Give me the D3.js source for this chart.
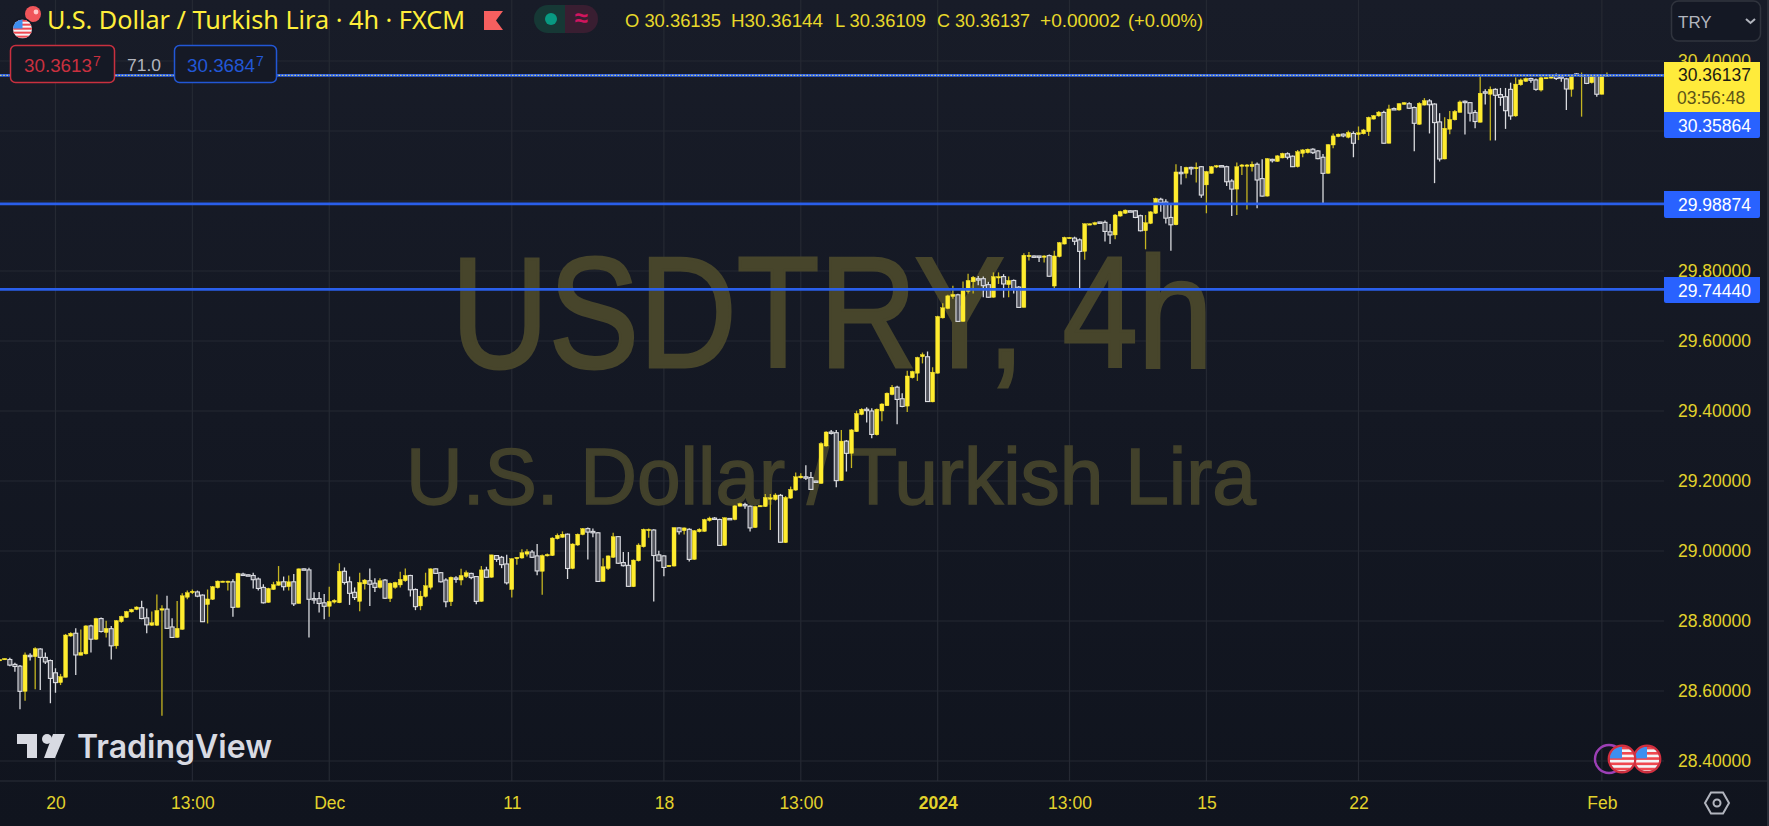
<!DOCTYPE html>
<html><head><meta charset="utf-8">
<style>html,body{margin:0;padding:0;background:#131722;overflow:hidden}svg{display:block}text{font-family:"Liberation Sans",sans-serif}</style>
<script src="https://cdn.jsdelivr.net/npm/d3@7/dist/d3.min.js"></script>
</head><body><svg id="c" width="1769" height="826"></svg>
<script>
const opens=[
28.686,28.689,28.690,28.676,28.671,28.599,28.702,28.698,28.720,28.696,
28.687,28.652,28.624,28.639,28.757,28.765,28.702,28.706,28.786,28.748,
28.807,28.767,28.778,28.729,28.798,28.810,28.826,28.833,28.838,28.809,
28.788,28.788,28.831,28.834,28.783,28.753,28.776,28.868,28.881,28.883,
28.874,28.847,28.862,28.895,28.912,28.912,28.912,28.839,28.934,28.932,
28.930,28.920,28.896,28.853,28.890,28.902,28.912,28.898,28.912,28.850,
28.949,28.946,28.864,28.864,28.852,28.842,28.854,28.852,28.942,28.912,
28.882,28.856,28.906,28.915,28.908,28.896,28.917,28.864,28.896,28.903,
28.915,28.930,28.890,28.843,28.870,28.896,28.949,28.938,28.917,28.855,
28.923,28.917,28.927,28.936,28.927,28.856,28.946,28.925,28.987,28.982,
28.963,28.890,28.979,28.980,28.991,28.997,28.986,28.942,28.986,28.987,
29.035,29.039,29.048,28.950,29.017,29.047,29.064,29.056,29.052,28.913,
28.950,28.982,29.041,28.967,28.959,28.898,28.972,29.012,29.060,29.060,
28.989,28.986,28.957,28.957,29.066,29.058,29.062,28.976,29.055,29.056,
29.087,29.094,29.090,29.016,29.093,29.090,29.128,29.133,29.128,29.067,
29.127,29.127,29.149,29.147,29.159,29.024,29.151,29.174,29.209,29.212,
29.210,29.200,29.193,29.300,29.340,29.338,29.201,29.314,29.279,29.341,
29.390,29.405,29.400,29.332,29.400,29.415,29.447,29.468,29.435,29.414,
29.495,29.508,29.555,29.555,29.426,29.508,29.666,29.693,29.727,29.732,
29.656,29.742,29.769,29.778,29.778,29.761,29.725,29.780,29.784,29.761,
29.773,29.754,29.696,29.841,29.843,29.843,29.841,29.844,29.757,29.841,
29.877,29.895,29.894,29.889,29.856,29.933,29.933,29.940,29.939,29.912,
29.903,29.957,29.965,29.972,29.972,29.958,29.915,29.936,29.965,30.005,
29.997,29.953,29.932,30.082,30.079,30.096,30.092,30.098,30.046,30.079,
30.098,30.101,30.098,30.057,30.034,30.100,30.100,30.098,30.105,30.064,
30.014,30.119,30.113,30.123,30.135,30.128,30.098,30.136,30.138,30.148,
30.143,30.125,30.079,30.160,30.184,30.191,30.182,30.193,30.190,30.192,
30.198,30.234,30.243,30.253,30.165,30.264,30.260,30.276,30.278,30.267,
30.219,30.274,30.286,30.277,30.226,30.120,30.205,30.232,30.253,30.285,
30.281,30.253,30.225,30.312,30.305,30.319,30.304,30.298,30.319,30.243,
30.332,30.342,30.350,30.346,30.317,30.350,30.351,30.361,30.355,30.349,
30.319,30.363,30.358,30.359,30.338,30.358,30.305,30.358,30.36135];
const closes=[
28.690,28.693,28.674,28.670,28.599,28.703,28.700,28.721,28.696,28.683,
28.636,28.624,28.641,28.760,28.765,28.703,28.710,28.786,28.748,28.807,
28.770,28.779,28.729,28.801,28.813,28.827,28.833,28.840,28.807,28.789,
28.795,28.830,28.835,28.779,28.753,28.779,28.872,28.881,28.885,28.871,
28.798,28.863,28.898,28.914,28.914,28.914,28.839,28.936,28.930,28.930,
28.918,28.893,28.852,28.893,28.904,28.912,28.898,28.912,28.849,28.949,
28.947,28.862,28.860,28.850,28.842,28.856,28.859,28.942,28.910,28.879,
28.867,28.910,28.917,28.905,28.896,28.915,28.865,28.908,28.910,28.919,
28.930,28.889,28.841,28.871,28.901,28.949,28.936,28.912,28.855,28.925,
28.921,28.930,28.938,28.924,28.856,28.946,28.925,28.989,28.976,28.961,
28.909,28.978,28.982,28.995,28.998,28.982,28.943,28.987,28.990,29.037,
29.045,29.048,28.950,29.020,29.048,29.064,29.054,29.052,28.913,28.955,
28.986,29.041,28.965,28.958,28.899,28.974,29.017,29.062,29.062,28.987,
28.972,28.953,28.959,29.067,29.055,29.066,28.976,29.058,29.062,29.090,
29.094,29.092,29.016,29.095,29.091,29.129,29.135,29.129,29.066,29.127,
29.130,29.153,29.152,29.160,29.025,29.153,29.176,29.212,29.214,29.208,
29.176,29.198,29.307,29.340,29.338,29.201,29.314,29.279,29.346,29.393,
29.405,29.401,29.333,29.405,29.420,29.451,29.468,29.433,29.413,29.500,
29.513,29.553,29.561,29.427,29.511,29.670,29.695,29.729,29.733,29.656,
29.748,29.773,29.782,29.775,29.758,29.725,29.784,29.784,29.763,29.773,
29.750,29.696,29.845,29.845,29.841,29.841,29.843,29.785,29.843,29.881,
29.896,29.896,29.885,29.856,29.935,29.935,29.938,29.938,29.913,29.903,
29.960,29.970,29.974,29.970,29.953,29.915,29.938,29.969,30.007,29.995,
29.951,29.932,30.083,30.079,30.096,30.093,30.096,30.017,30.084,30.098,
30.101,30.099,30.055,30.034,30.098,30.103,30.103,30.105,30.060,30.014,
30.121,30.115,30.129,30.136,30.125,30.098,30.141,30.146,30.148,30.138,
30.121,30.079,30.161,30.186,30.191,30.186,30.196,30.165,30.195,30.203,
30.239,30.244,30.254,30.165,30.263,30.261,30.278,30.281,30.265,30.222,
30.279,30.287,30.275,30.224,30.120,30.208,30.233,30.256,30.283,30.283,
30.251,30.227,30.308,30.310,30.319,30.302,30.296,30.258,30.243,30.334,
30.346,30.350,30.345,30.319,30.352,30.353,30.360,30.350,30.353,30.320,
30.359,30.359,30.359,30.336,30.357,30.305,30.359,30.360,30.36137];
const highs=[
28.690,28.693,28.695,28.681,28.674,28.710,28.708,28.725,28.722,28.710,
28.690,28.665,28.649,28.763,28.768,28.779,28.776,28.788,28.789,28.809,
28.810,28.801,28.786,28.803,28.815,28.829,28.835,28.842,28.858,28.836,
28.827,28.876,28.845,28.872,28.808,28.857,28.879,28.887,28.890,28.887,
28.876,28.890,28.900,28.916,28.915,28.915,28.919,28.938,28.938,28.933,
28.938,28.924,28.905,28.895,28.912,28.957,28.927,28.930,28.934,28.950,
28.950,28.952,28.882,28.883,28.877,28.898,28.862,28.965,28.953,28.927,
28.896,28.938,28.920,28.950,28.922,28.922,28.920,28.910,28.912,28.941,
28.950,28.932,28.893,28.886,28.938,28.950,28.950,28.940,28.922,28.927,
28.928,28.949,28.944,28.938,28.928,28.957,28.955,28.989,28.988,28.986,
28.989,28.979,28.982,29.005,29.005,29.003,29.020,28.990,28.993,29.039,
29.050,29.056,29.050,29.022,29.050,29.066,29.067,29.064,29.054,28.979,
28.987,29.052,29.042,28.997,28.997,28.976,29.022,29.064,29.064,29.062,
29.001,28.988,28.960,29.067,29.067,29.067,29.065,29.060,29.065,29.092,
29.098,29.097,29.092,29.096,29.094,29.131,29.138,29.138,29.130,29.129,
29.131,29.163,29.163,29.165,29.163,29.157,29.184,29.224,29.222,29.245,
29.226,29.201,29.311,29.342,29.346,29.346,29.346,29.317,29.348,29.401,
29.408,29.411,29.408,29.407,29.422,29.453,29.474,29.472,29.451,29.515,
29.515,29.555,29.567,29.570,29.525,29.672,29.708,29.732,29.758,29.735,
29.770,29.792,29.786,29.786,29.784,29.769,29.796,29.796,29.791,29.784,
29.776,29.757,29.851,29.854,29.844,29.843,29.845,29.847,29.858,29.883,
29.898,29.897,29.898,29.893,29.936,29.936,29.941,29.941,29.944,29.934,
29.963,29.972,29.976,29.973,29.974,29.961,29.960,29.971,30.009,30.009,
30.005,29.993,30.105,30.100,30.098,30.098,30.110,30.100,30.086,30.100,
30.103,30.102,30.101,30.062,30.110,30.106,30.106,30.113,30.110,30.119,
30.123,30.121,30.131,30.138,30.139,30.130,30.146,30.148,30.150,30.151,
30.146,30.134,30.163,30.193,30.193,30.193,30.201,30.199,30.213,30.206,
30.241,30.246,30.257,30.258,30.275,30.267,30.280,30.283,30.282,30.270,
30.282,30.294,30.291,30.279,30.251,30.239,30.257,30.260,30.287,30.287,
30.283,30.260,30.363,30.319,30.327,30.322,30.323,30.323,30.338,30.353,
30.350,30.353,30.352,30.350,30.359,30.353,30.363,30.364,30.360,30.352,
30.361,30.365,30.367,30.363,30.360,30.361,30.361,30.367,30.36144];
const lows=[
28.686,28.689,28.671,28.655,28.548,28.572,28.687,28.605,28.603,28.677,
28.565,28.595,28.617,28.639,28.755,28.646,28.702,28.704,28.710,28.746,
28.767,28.753,28.690,28.721,28.795,28.809,28.824,28.831,28.805,28.765,
28.786,28.786,28.529,28.777,28.752,28.752,28.775,28.862,28.877,28.868,
28.797,28.793,28.860,28.893,28.911,28.887,28.812,28.838,28.929,28.929,
28.893,28.887,28.850,28.852,28.889,28.901,28.887,28.887,28.843,28.850,
28.946,28.753,28.849,28.824,28.805,28.812,28.850,28.851,28.904,28.846,
28.860,28.828,28.890,28.843,28.883,28.893,28.863,28.854,28.892,28.896,
28.912,28.870,28.831,28.831,28.867,28.890,28.934,28.910,28.839,28.843,
28.909,28.902,28.923,28.919,28.848,28.855,28.923,28.924,28.969,28.951,
28.904,28.867,28.961,28.978,28.984,28.980,28.931,28.875,28.984,28.986,
29.033,29.038,28.920,28.948,29.015,29.045,28.976,29.039,28.912,28.912,
28.946,28.980,28.963,28.956,28.898,28.897,28.970,29.010,29.038,28.856,
28.970,28.928,28.956,28.956,29.047,29.047,28.970,28.975,29.053,29.055,
29.084,29.090,29.015,29.015,29.090,29.088,29.127,29.121,29.056,29.066,
29.126,29.126,29.060,29.144,29.024,29.023,29.149,29.172,29.207,29.203,
29.174,29.197,29.192,29.298,29.333,29.182,29.200,29.227,29.237,29.340,
29.388,29.367,29.322,29.330,29.371,29.414,29.445,29.362,29.411,29.397,
29.493,29.486,29.536,29.426,29.425,29.507,29.664,29.691,29.721,29.655,
29.655,29.736,29.736,29.759,29.725,29.724,29.724,29.763,29.724,29.725,
29.736,29.696,29.696,29.830,29.838,29.826,29.824,29.784,29.748,29.839,
29.876,29.894,29.874,29.748,29.832,29.932,29.931,29.937,29.884,29.877,
29.891,29.955,29.963,29.969,29.951,29.913,29.862,29.934,29.963,29.969,
29.936,29.858,29.931,30.047,30.065,30.075,30.053,30.009,29.965,30.078,
30.094,30.098,30.043,29.957,29.960,30.074,29.976,30.084,29.979,30.013,
30.013,30.110,30.112,30.122,30.119,30.097,30.096,30.125,30.136,30.134,
30.119,29.993,30.078,30.151,30.182,30.182,30.179,30.125,30.174,30.190,
30.186,30.233,30.241,30.164,30.164,30.260,30.258,30.275,30.263,30.142,
30.218,30.273,30.193,30.051,30.113,30.119,30.191,30.230,30.253,30.190,
30.227,30.208,30.224,30.276,30.173,30.173,30.272,30.206,30.232,30.241,
30.329,30.340,30.338,30.315,30.313,30.349,30.350,30.346,30.341,30.260,
30.298,30.358,30.241,30.334,30.336,30.298,30.304,30.357,30.36109];
const timeTickBars=[11,38,65,101,131,158,185,211,238,268,316];
const timeTickLabels=["20","13:00","Dec","11","18","13:00","2024","13:00","15","22","Feb"];
const priceTicks=[30.4,30.2,30.0,29.8,29.6,29.4,29.2,29.0,28.8,28.6,28.4];
const hiddenPriceTicks=[30.2,30.0];
const lastPrice=30.36137, bidLine=30.35864, level1=29.98874, level2=29.7444;
const legendTokens=["O 30.36135","H30.36144","L 30.36109","C 30.36137","+0.00002","(+0.00%)"];

const W=1769,H=826,plotR=1664,axisY=781;
const svg=d3.select("#c");
const defs=svg.append("defs");
const bgGrad=defs.append("linearGradient").attr("id","bg").attr("x1",0).attr("y1",0).attr("x2",0).attr("y2",1);
bgGrad.append("stop").attr("offset",0).attr("stop-color","#181c28");
bgGrad.append("stop").attr("offset",1).attr("stop-color","#10141e");
defs.append("clipPath").attr("id","plot").append("rect").attr("x",0).attr("y",0).attr("width",plotR).attr("height",axisY);
svg.append("rect").attr("width",W).attr("height",H).attr("fill","url(#bg)");

const x=d3.scaleLinear().domain([0,318]).range([-0.3,1612]);
const y=d3.scaleLinear().domain([28.4,30.4]).range([761,61]);
const yel="#e2d22c";

// grid
const grid=svg.append("g").attr("stroke","#252933").attr("stroke-width",1.2);
grid.selectAll("line.h").data(priceTicks).join("line").attr("x1",0).attr("x2",plotR).attr("y1",d=>y(d)).attr("y2",d=>y(d));
grid.selectAll("line.v").data(timeTickBars).join("line").attr("class","v").attr("y1",0).attr("y2",axisY).attr("x1",d=>x(d)).attr("x2",d=>x(d));

// watermark
const wm=svg.append("g").attr("fill","#47452b").attr("stroke","#47452b").attr("text-anchor","middle").style("font-family","'Noto Sans'");
wm.append("text").attr("x",832).attr("y",367).attr("font-size",158).attr("stroke-width",3).attr("textLength",762).attr("lengthAdjust","spacingAndGlyphs").text("USDTRY, 4h");
wm.append("text").attr("x",831).attr("y",504).attr("font-size",80).attr("stroke-width",1.5).attr("textLength",850).attr("lengthAdjust","spacingAndGlyphs").attr("fill","#42412b").attr("stroke","#42412b").text("U.S. Dollar / Turkish Lira");

// candles
const bars=opens.map((o,i)=>({i,o,c:closes[i],h:highs[i],l:lows[i],up:closes[i]>=o}));
const cg=svg.append("g").attr("clip-path","url(#plot)");
cg.selectAll("line.w").data(bars).join("line").attr("class","w")
 .attr("x1",d=>x(d.i)).attr("x2",d=>x(d.i)).attr("y1",d=>y(d.h)).attr("y2",d=>y(d.l))
 .attr("stroke",d=>d.up?"#c4b421":"#d9dade").attr("stroke-width",1.3);
cg.selectAll("rect.b").data(bars).join("rect").attr("class","b")
 .attr("x",d=>x(d.i)-2).attr("width",4)
 .attr("y",d=>Math.min(y(d.o),y(d.c)))
 .attr("height",d=>Math.max(1.4,Math.abs(y(d.o)-y(d.c))))
 .attr("fill",d=>d.up?"#ffec2e":"#53555e")
 .attr("stroke",d=>d.up?"#ffec2e":"#dcdde2").attr("stroke-width",d=>d.up?0.4:1.1);

// horizontal level lines
const lv=svg.append("g");
lv.selectAll("line").data([[lastPrice,0.8],[level1,-1],[level2,-1.1]]).join("line").attr("x1",0).attr("x2",plotR)
 .attr("y1",d=>y(d[0])+d[1]).attr("y2",d=>y(d[0])+d[1]).attr("stroke","#2a5fea").attr("stroke-width",2.7);
lv.append("line").attr("x1",0).attr("x2",plotR).attr("y1",y(lastPrice)+0.8).attr("y2",y(lastPrice)+0.8)
 .attr("stroke","#f2e66a").attr("stroke-width",1).attr("stroke-dasharray","1.6,1.6");

// price axis
const ya=d3.axisRight(y).tickValues(priceTicks.filter(d=>!hiddenPriceTicks.includes(d))).tickSize(0).tickPadding(0).tickFormat(d3.format(".5f"));
const yAxis=svg.append("g").attr("transform","translate(1678,0)").call(ya);
yAxis.select(".domain").remove();
yAxis.selectAll("text").attr("fill",yel).style("font-family","'Liberation Sans'").attr("font-size",17.5);

// time axis
const xa=d3.axisBottom(x).tickValues(timeTickBars).tickSize(0).tickPadding(0).tickFormat((d,i)=>timeTickLabels[i]);
const xAxis=svg.append("g").attr("transform","translate(0,"+(axisY+16)+")").call(xa);
xAxis.select(".domain").remove();
xAxis.selectAll("text").attr("fill",yel).style("font-family","'Liberation Sans'").attr("font-size",17.5)
 .attr("font-weight",(d,i)=>timeTickLabels[i]==="2024"?"bold":"normal");
svg.append("line").attr("x1",0).attr("x2",1767).attr("y1",axisY).attr("y2",axisY).attr("stroke","#2a2e38").attr("stroke-width",1.2);
svg.append("rect").attr("x",1767).attr("y",0).attr("width",2).attr("height",H).attr("fill","#2a2e38");

// price labels
function tag(val,col,txt,y0,y1,r,ty){
 svg.append("path").attr("d",`M1664,${y0}H1760V${y1-r}Q1760,${y1} ${1760-r},${y1}H${1664+r}Q1664,${y1} 1664,${y1-r}Z`).attr("fill",col);
 svg.append("text").attr("x",1678).attr("y",ty).attr("font-size",17.5).attr("fill",txt).text(val);
}
tag(d3.format(".5f")(lastPrice),"#ffeb3b","#1a1a14",62,112,0,81);
svg.append("text").attr("x",1677).attr("y",104).attr("font-size",17.5).attr("fill","#5c5418").text("03:56:48");
tag(d3.format(".5f")(bidLine),"#2962ff","#fff",112,138,2,131.5);
tag(d3.format(".5f")(level1),"#2962ff","#fff",191,218,2,211);
tag(d3.format(".5f")(level2),"#2962ff","#fff",277,303,2,296.5);

// TRY box
svg.append("rect").attr("x",1671.5).attr("y",1).attr("width",89).attr("height",40).attr("rx",7).attr("fill","#141824").attr("stroke","#30343e").attr("stroke-width",1.5);
svg.append("text").attr("x",1678).attr("y",28).attr("font-size",17).attr("fill","#b2b5be").text("TRY");
svg.append("path").attr("d","M1746,19l4.5,4l4.5,-4").attr("fill","none").attr("stroke","#b2b5be").attr("stroke-width",2);

// title
svg.append("text").attr("x",47).attr("y",29).attr("font-size",24.5).attr("fill","#ffee3a").style("font-family","'Noto Sans'")
 .attr("textLength",418).attr("lengthAdjust","spacingAndGlyphs").text("U.S. Dollar / Turkish Lira · 4h · FXCM");

// flags
function flag(cx,cy,r,ring,id){
 const g=svg.append("g");
 defs.append("clipPath").attr("id",id).append("circle").attr("cx",cx).attr("cy",cy).attr("r",r);
 const f=g.append("g").attr("clip-path",`url(#${id})`);
 f.append("rect").attr("x",cx-r).attr("y",cy-r).attr("width",2*r).attr("height",2*r).attr("fill","#f4f4f6");
 d3.range(0,5).forEach(k=>f.append("rect").attr("x",cx-r).attr("y",cy-r+r*0.42*k+r*0.02).attr("width",2*r).attr("height",r*0.21).attr("fill","#f0474f"));
 f.append("rect").attr("x",cx-r).attr("y",cy-r).attr("width",r).attr("height",r*0.95).attr("fill","#3d8ff0");
 if(ring) g.append("circle").attr("cx",cx).attr("cy",cy).attr("r",r+0.8).attr("fill","none").attr("stroke",ring).attr("stroke-width",2.2);
}
svg.append("circle").attr("cx",33).attr("cy",14).attr("r",8).attr("fill","#f0555a");
svg.append("circle").attr("cx",36).attr("cy",12).attr("r",2.4).attr("fill","#ffc9c9");
svg.append("circle").attr("cx",22.5).attr("cy",29).attr("r",11).attr("fill","#151925");
flag(22.5,29,9.5,null,"fl0");

// red marker flag
svg.append("path").attr("d","M484,11H503L496,20.5L503,30H484Z").attr("fill","#f55f5f");

// status pill
svg.append("path").attr("d","M565,5H548A14,14 0 0 0 548,33H565Z").attr("fill","#163835");
svg.append("path").attr("d","M565,5H584A14,14 0 0 1 584,33H565Z").attr("fill","#391e31");
svg.append("circle").attr("cx",551).attr("cy",19).attr("r",6).attr("fill","#089981");
svg.append("text").attr("x",581).attr("y",26).attr("text-anchor","middle").attr("font-size",24).attr("font-weight","bold").attr("fill","#d1155f").text("≈");

// legend
const legendX=[625,731,835,937,1040,1128], legendW=[96,92,91,93,80,75];
svg.append("g").selectAll("text").data(legendTokens).join("text")
 .attr("x",(d,i)=>legendX[i]).attr("y",27).attr("font-size",18).attr("fill","#e8d82a")
 .attr("textLength",(d,i)=>legendW[i]).attr("lengthAdjust","spacingAndGlyphs").text(d=>d);

// inputs
function box(x0,w,col,main,sup,tx){
 svg.append("rect").attr("x",x0).attr("y",45.5).attr("width",w).attr("height",37).attr("rx",5).attr("fill","#151925").attr("stroke",col).attr("stroke-width",1.5);
 svg.append("text").attr("x",tx).attr("y",72).attr("font-size",18.5).attr("fill",col).attr("textLength",68).attr("lengthAdjust","spacingAndGlyphs").text(main);
 svg.append("text").attr("x",tx+69).attr("y",66).attr("font-size",14).attr("fill",col).text(sup);
}
box(10.5,104,"#c9303f","30.3613","7",24);
box(174.5,102,"#2257d6","30.3684","7",187);
svg.append("text").attr("x",127).attr("y",71).attr("font-size",17).attr("fill","#b2b5be").attr("textLength",34).attr("lengthAdjust","spacingAndGlyphs").text("71.0");

// TradingView logo
const logo=svg.append("g").attr("fill","#d8dae2");
logo.append("path").attr("d","M17,734H37V758H27V744H17Z");
logo.append("circle").attr("cx",47).attr("cy",739).attr("r",5);
logo.append("path").attr("d","M53,734H65L55,758H44Z");
svg.append("text").attr("x",77).attr("y",758).attr("font-size",32).attr("font-weight",600).attr("fill","#d8dae2").style("font-family","Inter")
 .attr("textLength",195).attr("lengthAdjust","spacingAndGlyphs").text("TradingView");

// bottom right events
svg.append("circle").attr("cx",1609).attr("cy",759).attr("r",14).attr("fill","none").attr("stroke","#9c3fb5").attr("stroke-width",2.4);
flag(1647,759,12.5,"#d32f3f","fl2");
flag(1622,759,12.5,"#d32f3f","fl1");
svg.append("path").attr("d","M1705,803l6,-10.5h12l6,10.5l-6,10.5h-12Z").attr("fill","none").attr("stroke","#b2b5be").attr("stroke-width",2);
svg.append("circle").attr("cx",1717).attr("cy",803).attr("r",3.5).attr("fill","none").attr("stroke","#b2b5be").attr("stroke-width",2);
</script></body></html>
